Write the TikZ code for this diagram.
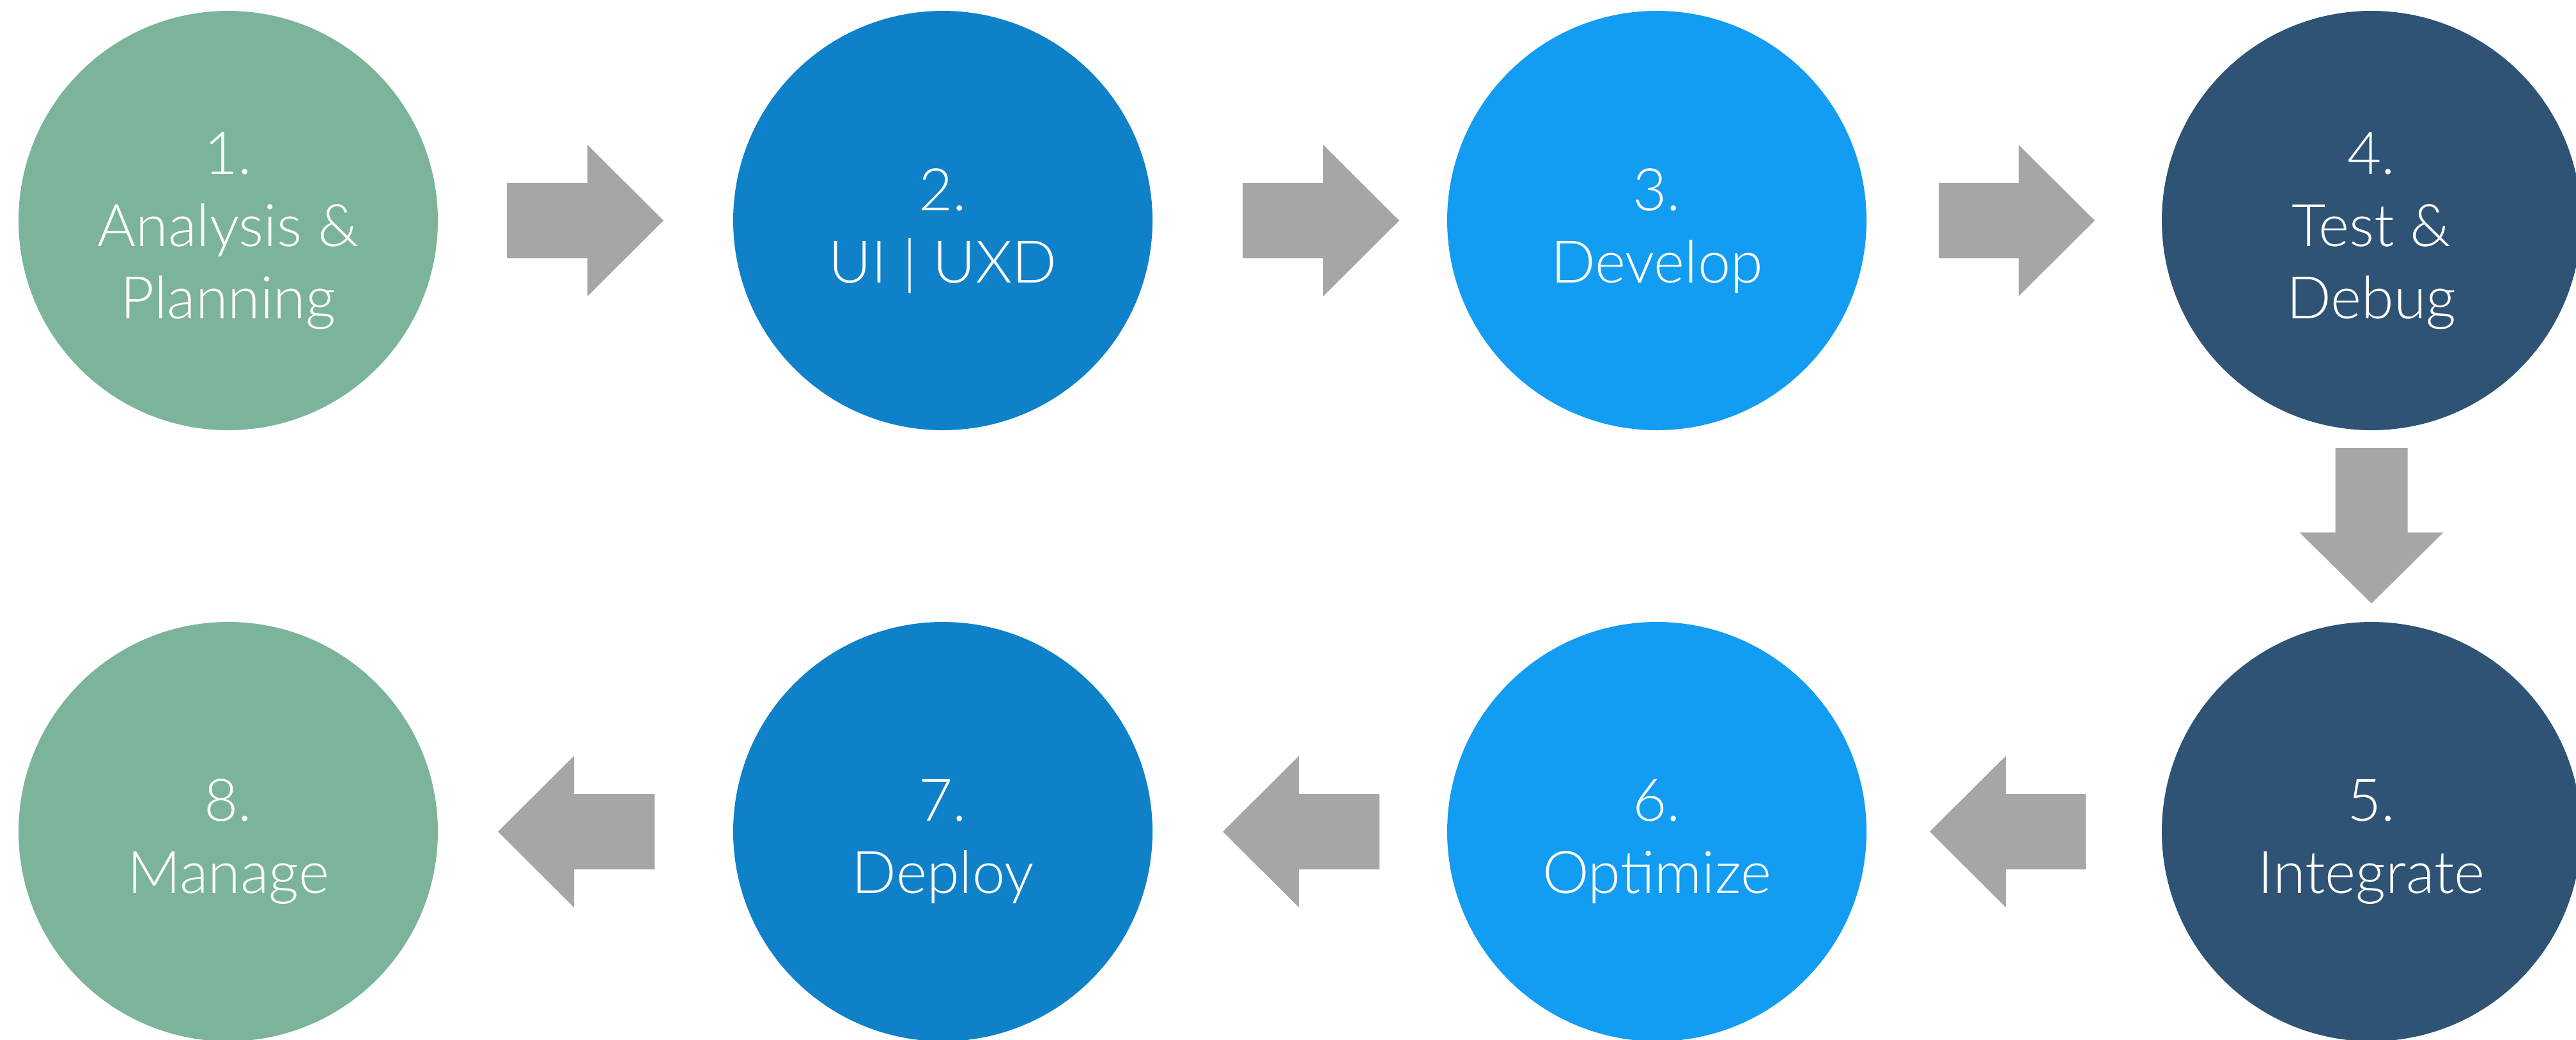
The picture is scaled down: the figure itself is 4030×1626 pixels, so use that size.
\documentclass[tikz,border=0pt]{standalone}
\usepackage{fontspec}
\setmainfont{Lato Light}
\usetikzlibrary{calc}
\definecolor{cgreen}{HTML}{7BB49B}
\definecolor{cblue}{HTML}{0F81C9}
\definecolor{clight}{HTML}{129CF2}
\definecolor{cnavy}{HTML}{2E5375}
\definecolor{cgrey}{HTML}{A6A6A6}
\tikzset{
  stepcircle/.style={circle, draw=none, inner sep=0pt, minimum size=656pt},
  steptext/.style={text=white, align=center, inner sep=0pt, yshift=-16pt,
    font=\fontsize{92}{113}\selectfont},
  arrowfill/.style={fill=cgrey, draw=none}
}
% rightward block arrow from tail (#1) to tip (#2)
\newcommand\rblock[2]{%
  \fill[arrowfill] ($(#1)+(0,-59)$) -- ($(#2)+(-119,-59)$) -- ($(#2)+(-119,-118.5)$) -- (#2)
    -- ($(#2)+(-119,118.5)$) -- ($(#2)+(-119,59)$) -- ($(#1)+(0,59)$) -- cycle;}
% leftward block arrow from tail (#1) to tip (#2)
\newcommand\lblock[2]{%
  \fill[arrowfill] ($(#1)+(0,-59)$) -- ($(#2)+(119,-59)$) -- ($(#2)+(119,-118.5)$) -- (#2)
    -- ($(#2)+(119,118.5)$) -- ($(#2)+(119,59)$) -- ($(#1)+(0,59)$) -- cycle;}
% downward block arrow from tail (#1) to tip (#2)
\newcommand\dblock[2]{%
  \fill[arrowfill] ($(#1)+(-56.5,0)$) -- ($(#2)+(-56.5,-111)$) -- ($(#2)+(-112.5,-111)$) -- (#2)
    -- ($(#2)+(112.5,-111)$) -- ($(#2)+(56.5,-111)$) -- ($(#1)+(56.5,0)$) -- cycle;}
\begin{document}
\begin{tikzpicture}[x=1pt,y=-1pt]
\useasboundingbox (0,0) rectangle (4030,1626);
\fill[white] (0,0) rectangle (4030,1626);
% circles, top row
\node[stepcircle, fill=cgreen] (c1) at (357,345) {};
\node[stepcircle, fill=cblue]  (c2) at (1475,345) {};
\node[stepcircle, fill=clight] (c3) at (2592,345) {};
\node[stepcircle, fill=cnavy]  (c4) at (3710,345) {};
% circles, bottom row
\node[stepcircle, fill=cnavy]  (c5) at (3710,1301) {};
\node[stepcircle, fill=clight] (c6) at (2592,1301) {};
\node[stepcircle, fill=cblue]  (c7) at (1475,1301) {};
\node[stepcircle, fill=cgreen] (c8) at (357,1301) {};
% texts
\node[steptext] (t1) at (c1) {1.\\Analysis \&\\Planning};
\node[steptext] (t2) at (c2) {2.\\UI | UXD};
\node[steptext] (t3) at (c3) {3.\\Develop};
\node[steptext] (t4) at (c4) {4.\\Test \&\\Debug};
\node[steptext] (t5) at (c5) {5.\\Integrate};
\node[steptext] (t6) at (c6) {6.\\Optimize};
\node[steptext] (t7) at (c7) {7.\\Deploy};
\node[steptext] (t8) at (c8) {8.\\Manage};
% arrow end points
\coordinate (a12t) at (793,345);  \coordinate (a12h) at (1038,345);
\coordinate (a23t) at (1944,345); \coordinate (a23h) at (2189,345);
\coordinate (a34t) at (3033,345); \coordinate (a34h) at (3277,345);
\coordinate (a45t) at (3710,701); \coordinate (a45h) at (3710,944);
\coordinate (a56t) at (3263,1301); \coordinate (a56h) at (3019,1301);
\coordinate (a67t) at (2158,1301); \coordinate (a67h) at (1913,1301);
\coordinate (a78t) at (1024,1301); \coordinate (a78h) at (779,1301);
\rblock{a12t}{a12h}
\rblock{a23t}{a23h}
\rblock{a34t}{a34h}
\dblock{a45t}{a45h}
\lblock{a56t}{a56h}
\lblock{a67t}{a67h}
\lblock{a78t}{a78h}
\end{tikzpicture}
\end{document}
